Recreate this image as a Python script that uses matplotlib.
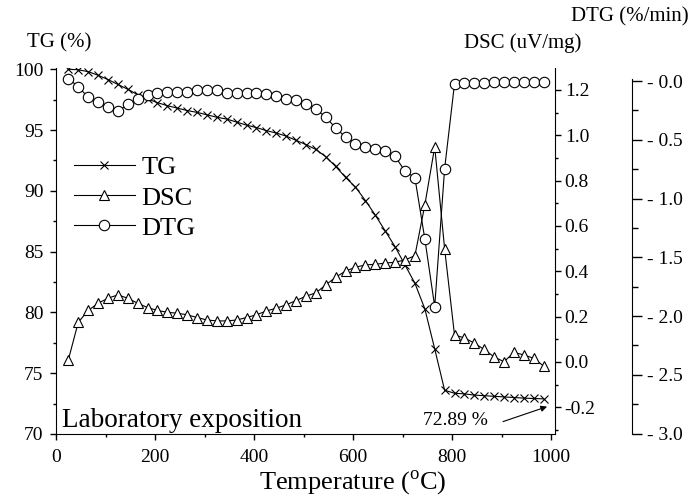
import matplotlib
matplotlib.use("Agg")
import matplotlib.pyplot as plt
from matplotlib.ticker import MultipleLocator, FuncFormatter, FormatStrFormatter

plt.rcParams['font.family'] = ['Liberation Serif', 'DejaVu Serif']
plt.rcParams['mathtext.fontset'] = 'custom'
plt.rcParams['mathtext.rm'] = 'Liberation Serif'
plt.rcParams['axes.unicode_minus'] = False

temperature = [25, 45, 65, 85, 105, 125, 145, 165, 185, 205, 225, 245, 265, 285, 305,
               325, 345, 365, 385, 405, 425, 445, 465, 485, 505, 525, 545, 565, 585, 605,
               625, 645, 665, 685, 705, 725, 745, 765, 785, 805, 825, 845, 865, 885, 905,
               925, 945, 965, 985]

tg = [100.0, 99.95, 99.8, 99.5, 99.15, 98.75, 98.35, 97.9, 97.55, 97.25, 97.0, 96.8,
      96.6, 96.45, 96.25, 96.05, 95.9, 95.65, 95.4, 95.2, 94.95, 94.75, 94.5, 94.15,
      93.8, 93.4, 92.8, 92.0, 91.1, 90.3, 89.2, 88.0, 86.7, 85.4, 83.9, 82.4, 80.3,
      77.0, 73.6, 73.35, 73.3, 73.2, 73.15, 73.1, 73.05, 73.0, 72.95, 72.92, 72.89]

dsc = [0.01, 0.175, 0.227, 0.259, 0.281, 0.296, 0.281, 0.259, 0.240, 0.227, 0.219,
       0.215, 0.208, 0.196, 0.185, 0.181, 0.181, 0.185, 0.196, 0.208, 0.225, 0.237,
       0.252, 0.271, 0.29, 0.305, 0.34, 0.374, 0.401, 0.418, 0.428, 0.431, 0.436, 0.44,
       0.45, 0.469, 0.692, 0.949, 0.50, 0.119, 0.106, 0.083, 0.055, 0.022, 0.001, 0.042,
       0.031, 0.016, -0.018]

dtg = [0.02, -0.048, -0.139, -0.182, -0.219, -0.256, -0.199, -0.150, -0.119, -0.105,
       -0.096, -0.096, -0.096, -0.08, -0.08, -0.077, -0.1, -0.105, -0.105, -0.105,
       -0.112, -0.125, -0.153, -0.163, -0.196, -0.241, -0.308, -0.40, -0.477, -0.532,
       -0.56, -0.58, -0.593, -0.642, -0.767, -0.823, -1.343, -1.92, -0.747, -0.023,
       -0.02, -0.015, -0.015, -0.01, -0.01, -0.01, -0.005, -0.01, -0.005]

fig = plt.figure(figsize=(6.91, 4.97), dpi=100)
ax = fig.add_axes([56 / 691, 63 / 497, 499 / 691, 366 / 497])
ax2 = ax.twinx()
ax3 = ax.twinx()

style = dict(color='black', lw=0.8, mfc='white', mec='black', mew=0.8)
l1, = ax.plot(temperature, tg, marker='x', ms=6, label='TG', **style)
l2, = ax2.plot(temperature, dsc, marker='^', ms=7.5, label='DSC', **style)
l3, = ax3.plot(temperature, dtg, marker='o', ms=7.5, label='DTG', **style)

# main axis (TG)
ax.set_xlim(0, 1008)
ax.set_ylim(70, 100.1)
ax.xaxis.set_major_locator(MultipleLocator(200))
ax.xaxis.set_minor_locator(MultipleLocator(100))
ax.yaxis.set_major_locator(MultipleLocator(5))
ax.yaxis.set_minor_locator(MultipleLocator(2.5))
ax.spines['top'].set_visible(False)
ax.spines['right'].set_visible(False)
ax.tick_params(which='both', direction='out', labelsize=14, width=1)
ax.tick_params(which='major', length=4)
ax.tick_params(which='minor', length=2.5)
ax.tick_params(axis='y', pad=5)
ax.tick_params(axis='x', pad=6.5)

# DSC axis
ax2.set_ylim(-0.318, 1.297)
ax2.yaxis.set_major_locator(MultipleLocator(0.2))
ax2.yaxis.set_minor_locator(MultipleLocator(0.1))
ax2.yaxis.set_major_formatter(FormatStrFormatter('%.1f'))
for s in ['top', 'left', 'bottom']:
    ax2.spines[s].set_visible(False)
ax2.tick_params(which='both', direction='out', labelsize=14, width=1, pad=3)
ax2.tick_params(which='major', length=4)
ax2.tick_params(which='minor', length=2.5)

# DTG axis
ax3.set_ylim(-3.004, 0.111)
ax3.spines['right'].set_position(('axes', 1.154))
ax3.spines['right'].set_bounds(-3.0, 0.02)
for s in ['top', 'left', 'bottom']:
    ax3.spines[s].set_visible(False)
ax3.yaxis.set_major_locator(MultipleLocator(0.5))
ax3.yaxis.set_minor_locator(MultipleLocator(0.25))
ax3.yaxis.set_major_formatter(FuncFormatter(lambda v, p: '- %.1f' % abs(v)))
ax3.tick_params(which='both', direction='out', labelsize=14, width=1, pad=3.5)
ax3.tick_params(which='major', length=7.5)
ax3.tick_params(which='minor', length=4)

fig.text(27 / 691, 1 - 43 / 497, 'TG (%)', fontsize=15, ha='left', va='center')
fig.text(464 / 691, 1 - 43 / 497, 'DSC (uV/mg)', fontsize=15, ha='left', va='center')
fig.text(571 / 691, 1 - 17 / 497, 'DTG (%/min)', fontsize=15, ha='left', va='center')
fig.text(353 / 691, 8 / 497, 'Temperature ($^{\\mathregular{o}}$C)', fontsize=19,
         ha='center', va='baseline')

ax.legend(handles=[l1, l2, l3], loc='upper left', bbox_to_anchor=(74 / 691, 1 - 156 / 497),
          bbox_transform=fig.transFigure, frameon=False, fontsize=19, handlelength=2.3,
          handletextpad=0.25, labelspacing=0.25, borderpad=0, borderaxespad=0)

ax.text(0.012, 0.02, 'Laboratory exposition', transform=ax.transAxes, fontsize=19.5,
        va='baseline', ha='left')
ax.text(806, 71.15, '72.89 %', ha='center', va='center', fontsize=14)
ax.annotate('', xy=(992, 72.25), xytext=(903, 71.02),
            arrowprops=dict(arrowstyle='-|>', color='black', lw=0.8, shrinkA=0, shrinkB=0,
                            mutation_scale=9))

fig.savefig('out.png', dpi=100)
